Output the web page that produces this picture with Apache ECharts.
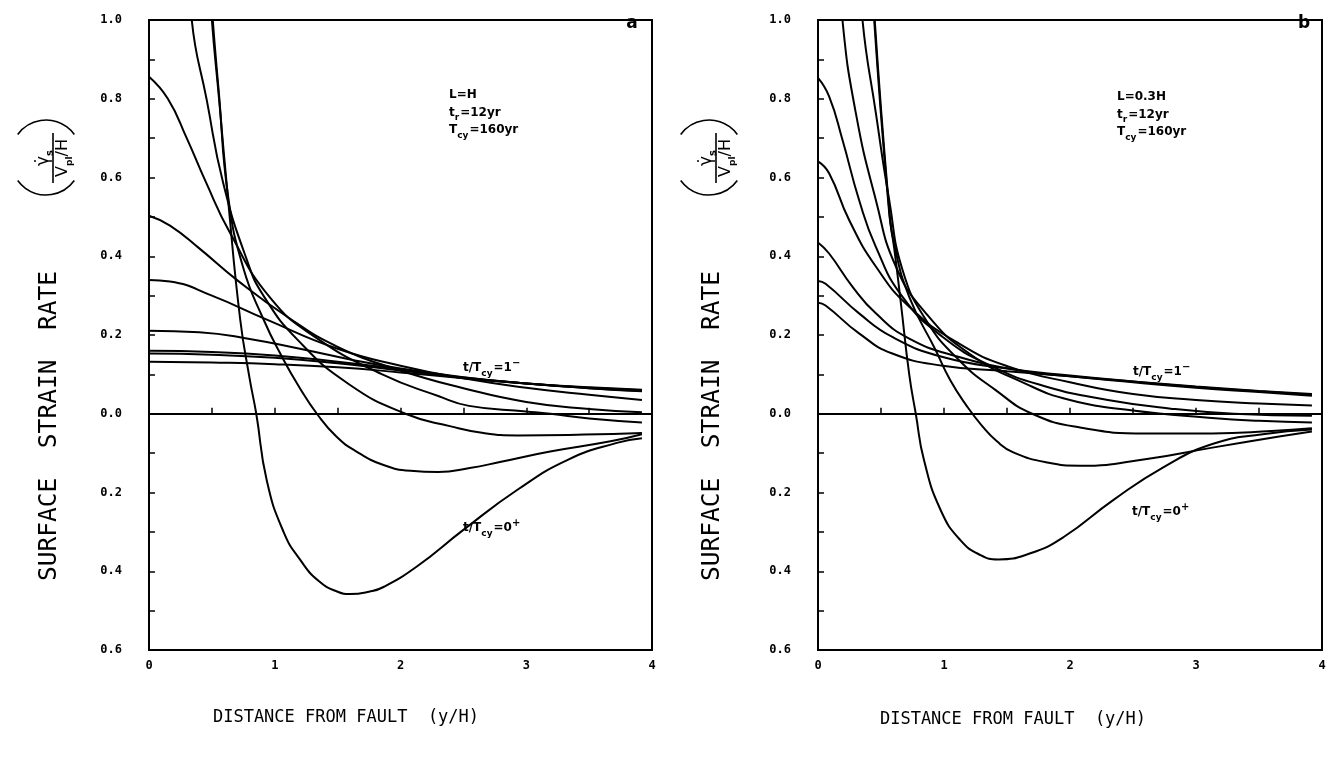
<!DOCTYPE html>
<html>
<head>
<meta charset="utf-8">
<title>Surface strain rate vs distance from fault</title>
<script src="https://cdn.jsdelivr.net/npm/echarts@6/dist/echarts.min.js"></script>
<style>
  html, body { margin: 0; padding: 0; background: #fff; }
  #chart { width: 1329px; height: 757px; }
</style>
</head>
<body>
<div id="chart"></div>
<script>
// x = y/H, value = strain rate / (Vpl/H)
// panel a : L = H
const aT0 = [[0,5],[0.3,2.2],[0.45,1.25],[0.5,1.0],[0.557,0.8],[0.63,0.54],[0.725,0.24],[0.8,0.09],[0.853,0],[0.937,-0.17],[1.07,-0.3],[1.2,-0.37],[1.35,-0.425],[1.5,-0.452],[1.6,-0.458],[1.75,-0.452],[1.865,-0.44],[2.13,-0.388],[2.5,-0.295],[2.93,-0.193],[3.33,-0.117],[3.72,-0.074],[3.92,-0.062]];
const aT1 = [[0,5],[0.3,2.25],[0.45,1.28],[0.5,1.03],[0.557,0.81],[0.63,0.55],[0.75,0.37],[0.91,0.24],[1.06,0.143],[1.2,0.065],[1.335,0],[1.49,-0.058],[1.65,-0.096],[1.865,-0.13],[2.08,-0.145],[2.3,-0.148],[2.55,-0.138],[2.8,-0.122],[3.19,-0.096],[3.67,-0.07],[3.92,-0.052]];
const aT2 = [[0,3],[0.2,1.6],[0.34,1.0],[0.459,0.797],[0.59,0.586],[0.778,0.391],[0.91,0.3],[1.19,0.185],[1.59,0.075],[2.04,0],[2.4,-0.032],[2.66,-0.049],[2.93,-0.055],[3.46,-0.053],[3.92,-0.049]];
const aT3 = [[0,0.856],[0.15,0.8],[0.3,0.7],[0.45,0.59],[0.645,0.459],[0.963,0.295],[1.325,0.194],[1.855,0.1],[2.3,0.045],[2.545,0.02],[3.0,0.006],[3.19,0],[3.5,-0.012],[3.92,-0.022]];
const aT4 = [[0,0.503],[0.167,0.478],[0.4,0.42],[0.698,0.34],[1.096,0.247],[1.5,0.17],[2.0,0.11],[2.5,0.065],[3.0,0.03],[3.5,0.012],[3.92,0.004]];
const aT5 = [[0,0.34],[0.167,0.336],[0.5,0.3],[0.937,0.239],[1.5,0.165],[2.0,0.122],[2.5,0.09],[3.0,0.066],[3.5,0.048],[3.92,0.035]];
const aT6 = [[0,0.211],[0.4,0.207],[0.8,0.19],[1.2,0.165],[1.6,0.138],[2.0,0.115],[2.5,0.093],[3.0,0.077],[3.5,0.065],[3.92,0.057]];
const aT7 = [[0,0.16],[0.5,0.157],[1.0,0.148],[1.5,0.132],[2.0,0.113],[2.5,0.092],[3.0,0.077],[3.5,0.065],[3.92,0.058]];
const aT8 = [[0,0.153],[0.5,0.15],[1.0,0.142],[1.5,0.128],[2.0,0.11],[2.5,0.091],[3.0,0.077],[3.5,0.066],[3.92,0.06]];
const aT9 = [[0,0.132],[0.5,0.13],[1.0,0.126],[1.5,0.118],[2.0,0.105],[2.5,0.09],[3.0,0.077],[3.5,0.067],[3.92,0.061]];

// panel b : L = 0.3H
const bT0 = [[0,5],[0.3,1.8],[0.446,1.0],[0.565,0.51],[0.605,0.42],[0.658,0.28],[0.724,0.1],[0.776,0],[0.842,-0.119],[0.974,-0.245],[1.13,-0.321],[1.29,-0.359],[1.43,-0.37],[1.68,-0.355],[1.95,-0.313],[2.34,-0.22],[2.74,-0.136],[3.13,-0.077],[3.53,-0.052],[3.92,-0.04]];
const bT1 = [[0,5],[0.3,1.82],[0.446,1.02],[0.565,0.52],[0.605,0.43],[0.724,0.297],[0.936,0.16],[1.05,0.085],[1.18,0.02],[1.3,-0.03],[1.42,-0.07],[1.55,-0.098],[1.82,-0.124],[2.08,-0.132],[2.61,-0.115],[3.13,-0.086],[3.66,-0.058],[3.92,-0.045]];
const bT2 = [[0,3],[0.2,1.6],[0.353,1.0],[0.459,0.764],[0.565,0.543],[0.671,0.365],[0.857,0.238],[1.12,0.136],[1.41,0.06],[1.7,0],[2.08,-0.035],[2.61,-0.05],[3.13,-0.05],[3.6,-0.044],[3.92,-0.037]];
const bT3 = [[0,2],[0.1,1.4],[0.194,1.0],[0.3,0.764],[0.459,0.543],[0.618,0.374],[0.857,0.255],[1.2,0.153],[1.65,0.076],[2.0,0.035],[2.5,0.008],[3.1,-0.01],[3.5,-0.018],[3.92,-0.022]];
const bT4 = [[0,0.853],[0.088,0.806],[0.194,0.696],[0.326,0.543],[0.459,0.424],[0.671,0.297],[0.99,0.195],[1.39,0.119],[1.8,0.07],[2.3,0.035],[2.8,0.013],[3.3,0.0],[3.92,-0.005]];
const bT5 = [[0,0.641],[0.088,0.611],[0.247,0.492],[0.459,0.374],[0.724,0.272],[1.12,0.178],[1.52,0.119],[2.0,0.08],[2.5,0.05],[3.0,0.035],[3.5,0.026],[3.92,0.021]];
const bT6 = [[0,0.435],[0.088,0.407],[0.273,0.323],[0.459,0.255],[0.724,0.191],[1.12,0.144],[1.6,0.11],[2.0,0.095],[2.5,0.08],[3.0,0.066],[3.5,0.055],[3.92,0.046]];
const bT7 = [[0,0.337],[0.06,0.33],[0.326,0.255],[0.59,0.195],[0.99,0.144],[1.5,0.115],[2.0,0.097],[2.5,0.082],[3.0,0.068],[3.5,0.057],[3.92,0.048]];
const bT8 = [[0,0.282],[0.06,0.275],[0.326,0.204],[0.59,0.153],[0.99,0.122],[1.5,0.108],[2.0,0.095],[2.5,0.082],[3.0,0.069],[3.5,0.058],[3.92,0.05]];

const curvesA = [aT0, aT1, aT2, aT3, aT4, aT5, aT6, aT7, aT8, aT9];
const curvesB = [bT0, bT1, bT2, bT3, bT4, bT5, bT6, bT7, bT8];

const xMin = 0, xMax = 4, xStep = 1;
const yMin = -0.6, yMax = 1.0, yStep = 0.2;

const notesA = ['{b|L=H}', '{b|t}{sub|r}{b|=12yr}', '{b|T}{sub|cy}{b|=160yr}'];
const notesB = ['{b|L=0.3H}', '{b|t}{sub|r}{b|=12yr}', '{b|T}{sub|cy}{b|=160yr}'];
const labelLate = '{b|t/T}{sub|cy}{b|=1}{sup|−}';
const labelEarly = '{b|t/T}{sub|cy}{b|=0}{sup|+}';
const yTitle = 'SURFACE  STRAIN  RATE';
const xTitle = 'DISTANCE FROM FAULT  (y/H)';

const MONO = '"DejaVu Sans Mono", "Liberation Mono", monospace';
const SANS = '"DejaVu Sans", "Liberation Sans", sans-serif';

const chart = echarts.init(document.getElementById('chart'), null, { renderer: 'canvas' });

const richText = {
  b: { fontFamily: SANS, fontWeight: 'bold', fontSize: 12, lineHeight: 20, verticalAlign: 'middle', color: '#000' },
  sub: { fontFamily: SANS, fontWeight: 'bold', fontSize: 9, lineHeight: 20, verticalAlign: 'bottom', padding: [0, 1, 0, 0], color: '#000' },
  sup: { fontFamily: SANS, fontWeight: 'bold', fontSize: 10, lineHeight: 20, verticalAlign: 'top', color: '#000' }
};

function xAxisFor(gi) {
  return {
    type: 'value', gridIndex: gi, min: xMin, max: xMax, interval: xStep,
    axisLine: { show: true, lineStyle: { color: '#000', width: 2 } },
    axisTick: { show: true, inside: true, length: 6, lineStyle: { color: '#000', width: 1.5 } },
    minorTick: { show: true, splitNumber: 2, length: 6, lineStyle: { color: '#000', width: 1.5 } },
    splitLine: { show: false },
    axisLabel: { color: '#000', fontFamily: MONO, fontWeight: 'bold', fontSize: 12, margin: 10,
      formatter: v => String(Math.round(v)) }
  };
}

function yAxisFor(gi) {
  return {
    type: 'value', gridIndex: gi, min: yMin, max: yMax, interval: yStep,
    axisLine: { show: true, lineStyle: { color: '#000', width: 2 } },
    axisTick: { show: true, inside: true, length: 6, lineStyle: { color: '#000', width: 1.5 } },
    minorTick: { show: true, splitNumber: 2, length: 6, lineStyle: { color: '#000', width: 1.5 } },
    splitLine: { show: false },
    axisLabel: { color: '#000', fontFamily: MONO, fontWeight: 'bold', fontSize: 12, margin: 27,
      formatter: v => Math.abs(v).toFixed(1) }
  };
}

function lineSeries(data, gi, withZero) {
  const s = {
    type: 'line', xAxisIndex: gi, yAxisIndex: gi, data: data,
    showSymbol: false, smooth: 0.5, clip: true, silent: true,
    lineStyle: { color: '#000', width: 2 }
  };
  if (withZero) {
    s.markLine = {
      silent: true, symbol: 'none', label: { show: false },
      lineStyle: { color: '#000', width: 1.5, type: 'solid' },
      data: [{ yAxis: 0 }]
    };
  }
  return s;
}

const series = [];
curvesA.forEach((c, i) => series.push(lineSeries(c, 0, i === 0)));
curvesB.forEach((c, i) => series.push(lineSeries(c, 1, i === 0)));

// rotated y-title and the (gamma_s / (Vpl/H)) fraction for one panel
function sideLabels(dx) {
  return [
    { type: 'text', x: 50 + dx, y: 426, rotation: Math.PI / 2,
      style: { text: yTitle, fontFamily: MONO, fontSize: 24.5, fill: '#000', align: 'center', verticalAlign: 'middle' } },
    { type: 'arc', shape: { cx: 46 + dx, cy: 155, r: 35, startAngle: -Math.PI * 0.8, endAngle: -Math.PI * 0.2, clockwise: true },
      style: { stroke: '#000', lineWidth: 1.6, fill: null } },
    { type: 'arc', shape: { cx: 46 + dx, cy: 160, r: 35, startAngle: Math.PI * 0.2, endAngle: Math.PI * 0.8, clockwise: true },
      style: { stroke: '#000', lineWidth: 1.6, fill: null } },
    { type: 'group', x: 53 + dx, y: 158, rotation: Math.PI / 2, children: [
      { type: 'text', x: 0, y: -9,
        style: { text: '{g|γ̇}{s|s}', align: 'center', verticalAlign: 'middle',
          rich: { g: { fontFamily: SANS, fontSize: 17, lineHeight: 22, verticalAlign: 'middle', color: '#000' },
                  s: { fontFamily: SANS, fontWeight: 'bold', fontSize: 10, lineHeight: 22, verticalAlign: 'bottom', color: '#000' } } } },
      { type: 'line', shape: { x1: -25, y1: 0, x2: 25, y2: 0 }, style: { stroke: '#000', lineWidth: 1.6 } },
      { type: 'text', x: 0, y: 10,
        style: { text: '{g|V}{s|pl}{g|/H}', align: 'center', verticalAlign: 'middle',
          rich: { g: { fontFamily: SANS, fontSize: 16, lineHeight: 22, verticalAlign: 'middle', color: '#000' },
                  s: { fontFamily: SANS, fontWeight: 'bold', fontSize: 9, lineHeight: 22, verticalAlign: 'bottom', color: '#000' } } } }
    ] }
  ];
}

function noteBlock(lines, x, y) {
  return lines.map((t, i) => ({
    type: 'text', x: x, y: y + i * 17.5,
    style: { text: t, rich: richText, align: 'left', verticalAlign: 'middle' }
  }));
}

const graphic = [].concat(
  sideLabels(0),
  sideLabels(663),
  [
    { type: 'text', x: 346, y: 718, style: { text: xTitle, fontFamily: MONO, fontSize: 17, fill: '#000', align: 'center', verticalAlign: 'middle' } },
    { type: 'text', x: 1013, y: 720, style: { text: xTitle, fontFamily: MONO, fontSize: 17, fill: '#000', align: 'center', verticalAlign: 'middle' } },
    { type: 'text', x: 632, y: 24, style: { text: 'a', fontFamily: SANS, fontWeight: 'bold', fontSize: 17, fill: '#000', align: 'center', verticalAlign: 'middle' } },
    { type: 'text', x: 1304, y: 24, style: { text: 'b', fontFamily: SANS, fontWeight: 'bold', fontSize: 17, fill: '#000', align: 'center', verticalAlign: 'middle' } },
    { type: 'text', x: 463, y: 368, style: { text: labelLate, rich: richText, align: 'left', verticalAlign: 'middle' } },
    { type: 'text', x: 463, y: 528, style: { text: labelEarly, rich: richText, align: 'left', verticalAlign: 'middle' } },
    { type: 'text', x: 1133, y: 372, style: { text: labelLate, rich: richText, align: 'left', verticalAlign: 'middle' } },
    { type: 'text', x: 1132, y: 512, style: { text: labelEarly, rich: richText, align: 'left', verticalAlign: 'middle' } }
  ],
  noteBlock(notesA, 449, 95),
  noteBlock(notesB, 1117, 97)
);

const option = {
  backgroundColor: '#fff',
  animation: false,
  grid: [
    { left: 149, top: 20, width: 503, height: 630, show: true, borderColor: '#000', borderWidth: 2, backgroundColor: 'transparent' },
    { left: 818, top: 20, width: 504, height: 630, show: true, borderColor: '#000', borderWidth: 2, backgroundColor: 'transparent' }
  ],
  xAxis: [xAxisFor(0), xAxisFor(1)],
  yAxis: [yAxisFor(0), yAxisFor(1)],
  series: series,
  graphic: graphic
};

chart.setOption(option);
</script>
</body>
</html>
